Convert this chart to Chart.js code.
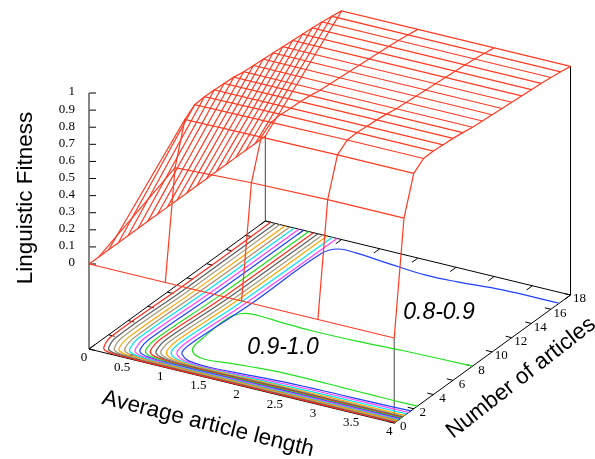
<!DOCTYPE html>
<html>
<head>
<meta charset="utf-8">
<style>
  html, body { margin: 0; padding: 0; background: #fff; }
  canvas { display: block; }
</style>
<script src="https://cdn.jsdelivr.net/npm/chart.js@4"></script>
</head>
<body>
<canvas id="fitnessChart" width="595" height="459"></canvas>
<script>
// Surface grid
const lengths = [0, 1, 2, 3, 4];
const articles = [0, 1, 2, 3, 4, 5, 6, 7, 8, 9, 10, 11, 12, 13, 14, 15, 16, 17, 18];
const fitness = [
    [0, 0, 0, 0, 0],
    [0, 0.63, 0.65, 0.66, 0.66],
    [0, 0.87, 0.875, 0.88, 0.88],
    [0, 0.915, 0.92, 0.925, 0.925],
    [0, 0.92, 0.925, 0.927, 0.927],
    [0, 0.918, 0.92, 0.922, 0.922],
    [0, 0.915, 0.917, 0.918, 0.918],
    [0, 0.91, 0.91, 0.91, 0.91],
    [0, 0.90, 0.90, 0.90, 0.90],
    [0, 0.895, 0.895, 0.895, 0.895],
    [0, 0.89, 0.89, 0.89, 0.89],
    [0, 0.885, 0.885, 0.885, 0.885],
    [0, 0.88, 0.88, 0.88, 0.88],
    [0, 0.875, 0.875, 0.875, 0.875],
    [0, 0.87, 0.87, 0.87, 0.87],
    [0, 0.865, 0.865, 0.865, 0.865],
    [0, 0.858, 0.858, 0.858, 0.858],
    [0, 0.85, 0.85, 0.85, 0.85],
    [0, 0.84, 0.84, 0.84, 0.84]
];

// Contours on the floor: average length / number of articles
const contourColors = ['#ff2a1a', '#5c5c5c', '#a09878', '#ffa500', '#b08a60', '#00e5ee', '#ff40ff', '#2040ff', '#20e020',
    '#ff2a1a', '#5c5c5c', '#a09878', '#ffa500', '#00e5ee', '#ff40ff', '#2040ff', '#20e020'];
const contourLengths = [
    [0.07, 0.07, 0.05, 0.12, 0.18, 0.32, 0.62, 2.4, 3.1, 4],
    [0.13, 0.13, 0.11, 0.17, 0.23, 0.37, 0.67, 2.4, 3.1, 4],
    [0.19, 0.19, 0.17, 0.23, 0.29, 0.43, 0.73, 2.4, 3.1, 4],
    [0.26, 0.25, 0.23, 0.28, 0.34, 0.48, 0.78, 2.4, 3.1, 4],
    [0.32, 0.31, 0.29, 0.34, 0.40, 0.54, 0.84, 2.4, 3.1, 4],
    [0.38, 0.37, 0.34, 0.39, 0.45, 0.59, 0.89, 2.4, 3.1, 4],
    [0.44, 0.43, 0.40, 0.45, 0.51, 0.65, 0.95, 2.4, 3.1, 4],
    [0.50, 0.49, 0.46, 0.50, 0.56, 0.70, 1.00, 2.4, 3.1, 4],
    [0.57, 0.56, 0.52, 0.56, 0.62, 0.76, 1.06, 2.4, 3.1, 4],
    [0.63, 0.62, 0.57, 0.61, 0.67, 0.81, 1.11, 2.4, 3.1, 4],
    [0.69, 0.68, 0.63, 0.67, 0.73, 0.87, 1.17, 2.4, 3.1, 4],
    [0.75, 0.74, 0.69, 0.72, 0.78, 0.92, 1.22, 2.4, 3.1, 4],
    [0.81, 0.80, 0.75, 0.78, 0.84, 0.98, 1.28, 2.4, 3.1, 4],
    [0.88, 0.86, 0.81, 0.83, 0.89, 1.03, 1.33, 2.4, 3.1, 4],
    [0.94, 0.92, 0.87, 0.89, 0.95, 1.09, 1.39, 2.4, 3.1, 4],
    [3.99, 3.26, 2.71, 2.31, 1.81, 1.32, 1.09, 0.99, 0.98, 0.93, 0.94, 1.00, 1.14, 1.44, 1.84, 2.4, 3.1, 3.5, 4],
    [4, 3.1, 2.54, 1.94, 1.54, 1.22, 1.05, 0.95, 0.97, 1.03, 1.23, 1.55, 1.81, 2.08, 2.52, 3.0, 3.41, 3.69, 4]
];
const contourArticles = [
    [18, 9, 1.79, 0.59, 0.25, 0.10, 0.06, 0.06, 0.06, 0.07],
    [18, 9, 1.90, 0.70, 0.34, 0.17, 0.12, 0.13, 0.13, 0.14],
    [18, 9, 2.02, 0.82, 0.44, 0.25, 0.19, 0.20, 0.20, 0.21],
    [18, 9, 2.13, 0.93, 0.53, 0.33, 0.26, 0.27, 0.28, 0.29],
    [18, 9, 2.25, 1.05, 0.63, 0.42, 0.33, 0.35, 0.36, 0.37],
    [18, 9, 2.36, 1.16, 0.72, 0.50, 0.40, 0.43, 0.44, 0.45],
    [18, 9, 2.47, 1.27, 0.81, 0.58, 0.47, 0.51, 0.52, 0.53],
    [18, 9, 2.59, 1.39, 0.91, 0.66, 0.54, 0.59, 0.60, 0.61],
    [18, 9, 2.70, 1.50, 1.00, 0.74, 0.61, 0.67, 0.68, 0.69],
    [18, 9, 2.82, 1.62, 1.10, 0.82, 0.68, 0.75, 0.76, 0.77],
    [18, 9, 2.93, 1.73, 1.20, 0.90, 0.75, 0.84, 0.84, 0.85],
    [18, 9, 3.05, 1.85, 1.30, 0.98, 0.82, 0.92, 0.93, 0.95],
    [18, 9, 3.16, 1.96, 1.40, 1.06, 0.89, 1.00, 1.04, 1.08],
    [18, 9, 3.27, 2.07, 1.50, 1.14, 0.96, 1.14, 1.22, 1.28],
    [18, 9, 3.39, 2.19, 1.62, 1.22, 1.03, 1.32, 1.42, 1.48],
    [16.85, 16.8, 16.5, 16.4, 16.65, 16.95, 16.9, 16, 8.8, 3.5, 2.3, 1.75, 1.3, 1.15, 1.3, 1.52, 1.6, 1.63, 1.7],
    [8, 7.85, 7.68, 7.62, 7.72, 7.85, 7.75, 6.98, 4.08, 2.53, 1.9, 2.08, 2.25, 2.4, 2.46, 2.42, 2.38, 2.36, 2.38]
];

// Ticks
const lengthTicks = [0, 0.5, 1, 1.5, 2, 2.5, 3, 3.5, 4];
const lengthLabels = ['0', '0.5', '1', '1.5', '2', '2.5', '3', '3.5', '4'];
const articleTicks = [0, 2, 4, 6, 8, 10, 12, 14, 16, 18];
const articleLabels = ['0', '2', '4', '6', '8', '10', '12', '14', '16', '18'];
const fitnessTicks = [0, 0.1, 0.2, 0.3, 0.4, 0.5, 0.6, 0.7, 0.8, 0.9, 1];
const fitnessLabels = ['0', '0.1', '0.2', '0.3', '0.4', '0.5', '0.6', '0.7', '0.8', '0.9', '1'];

// Fixed gnuplot-like view: floor sits below fitness 0
const floorZ = -0.497;
function project(len, art, z) {
    return {
        x: 89 + 76.3 * len + 9.796 * art,
        y: 349 + 18.5 * len - 7.11 * art - (z - floorZ) * 171
    };
}

const datasets = [];
function addLine(points, color, width, order, tension) {
    datasets.push({
        data: points,
        showLine: true,
        borderColor: color,
        borderWidth: width,
        pointRadius: 0,
        order: order,
        tension: tension || 0,
        clip: false
    });
}

// Surface wires, both directions
const wireColor = '#ff3a22';
articles.forEach(function (art, row) {
    addLine(lengths.map(function (len, col) { return project(len, art, fitness[row][col]); }), wireColor, 1.2, 0);
});
lengths.forEach(function (len, col) {
    addLine(articles.map(function (art, row) { return project(len, art, fitness[row][col]); }), wireColor, 1.2, 0);
});

// Contours
contourLengths.forEach(function (line, i) {
    const pts = line.map(function (len, j) { return project(len, contourArticles[i][j], floorZ); });
    addLine(pts, contourColors[i], 1.2, 1, 0.4);
});

// Box: floor outline and verticals
const maxLen = lengths[lengths.length - 1];
const maxArt = articles[articles.length - 1];
addLine([project(0, 0, floorZ), project(maxLen, 0, floorZ), project(maxLen, maxArt, floorZ), project(0, maxArt, floorZ), project(0, 0, floorZ)], '#000', 1, 2);
addLine([project(0, 0, floorZ), project(0, 0, 1)], '#666', 1.6, 2);
addLine([project(0, maxArt, floorZ), project(0, maxArt, 0)], '#444', 1, 2);
addLine([project(maxLen, 0, floorZ), project(maxLen, 0, 0)], '#444', 1, 2);
addLine([project(maxLen, maxArt, floorZ), project(maxLen, maxArt, fitness[fitness.length - 1][4])], '#000', 1, 2);

// Tick marks on all floor edges and on the fitness axis
lengthTicks.forEach(function (t) {
    addLine([project(t, 0, floorZ), project(t, 0.6, floorZ)], '#000', 1, 2);
    addLine([project(t, maxArt, floorZ), project(t, maxArt - 0.6, floorZ)], '#000', 1, 2);
});
articleTicks.forEach(function (t) {
    addLine([project(0, t, floorZ), project(0.08, t, floorZ)], '#000', 1, 2);
    addLine([project(maxLen, t, floorZ), project(maxLen - 0.08, t, floorZ)], '#000', 1, 2);
});
fitnessTicks.forEach(function (t) {
    const p = project(0, 0, t);
    addLine([p, { x: p.x + 7, y: p.y }], '#000', 1, 2);
});

// Tick labels and titles, real canvas text
const textPlugin = {
    id: 'axisText',
    afterDatasetsDraw: function (chart) {
        const ctx = chart.ctx;
        function put(text, x, y, font, align, angle) {
            ctx.save();
            ctx.translate(x, y);
            ctx.rotate((angle || 0) * Math.PI / 180);
            ctx.font = font;
            ctx.textAlign = align || 'center';
            ctx.textBaseline = 'middle';
            ctx.fillStyle = '#000';
            ctx.fillText(text, 0, 0);
            ctx.restore();
        }
        const tickFont = '13px "Liberation Serif"';
        lengthTicks.forEach(function (t, i) {
            const p = project(t, 0, floorZ);
            put(lengthLabels[i], p.x - 5, p.y + 9, tickFont);
        });
        articleTicks.forEach(function (t, i) {
            const p = project(maxLen, t, floorZ);
            put(articleLabels[i], p.x + 9, p.y + 4, tickFont);
        });
        fitnessTicks.forEach(function (t, i) {
            const p = project(0, 0, t);
            put(fitnessLabels[i], 75, p.y - 1, tickFont, 'right');
        });
        const titleFont = '22.5px "Liberation Sans"';
        put('Linguistic Fitness', 26, 198, titleFont, 'center', -90);
        put('Average article length', 208, 424, titleFont, 'center', 14);
        put('Number of articles', 521, 378, titleFont, 'center', -38);
        const noteFont = 'italic 23px "Liberation Sans"';
        put('0.8-0.9', 439, 313, noteFont);
        put('0.9-1.0', 283, 348, noteFont);
    }
};

new Chart(document.getElementById('fitnessChart'), {
    type: 'scatter',
    data: { datasets: datasets },
    options: {
        responsive: false,
        animation: false,
        layout: { padding: 0 },
        plugins: { legend: { display: false }, tooltip: { enabled: false } },
        scales: {
            x: { display: false, min: 0, max: 595 },
            y: { display: false, min: 0, max: 459, reverse: true }
        }
    },
    plugins: [textPlugin]
});
</script>
</body>
</html>
